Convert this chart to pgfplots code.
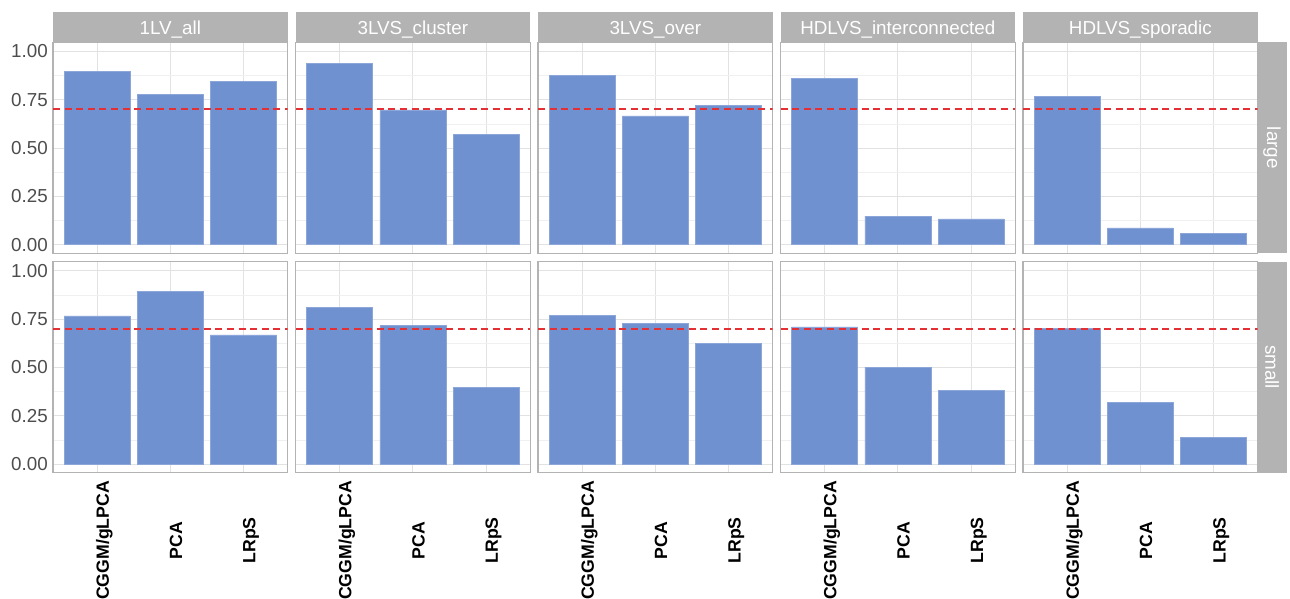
\documentclass[border=0pt]{standalone}
\usepackage{fontspec}
\setmainfont{Liberation Sans}
\usepackage{pgfplots}
\usepackage{pgfplotstable}
\pgfplotsset{compat=1.18}
\usetikzlibrary{calc}
\definecolor{barblue}{RGB}{111,145,208}
\definecolor{baredge}{RGB}{140,166,218}
\definecolor{grey70}{RGB}{179,179,179}
\definecolor{grey30}{RGB}{77,77,77}
\definecolor{gridmaj}{RGB}{226,226,226}
\definecolor{gridmin}{RGB}{240,240,240}
\definecolor{refred}{RGB}{228,48,52}

% large: rows are methods CGGM/gLPCA, PCA, LRpS
\pgfplotstableread{
x A B C D E
1 0.897 0.936 0.874 0.860 0.767
2 0.778 0.697 0.666 0.147 0.086
3 0.845 0.569 0.720 0.133 0.060
}\largetab
% small
\pgfplotstableread{
x A B C D E
1 0.766 0.812 0.769 0.710 0.703
2 0.894 0.718 0.729 0.501 0.319
3 0.668 0.397 0.626 0.383 0.138
}\smalltab

\newcommand{\stripfont}{\fontsize{18.8}{22}\selectfont}

\pgfplotsset{
  facet/.style={
    scale only axis, width=234.7pt, height=211pt, anchor=north west,
    xmin=0.4, xmax=3.6, ymin=-0.045, ymax=1.047,
    xtick={1,2,3}, ytick={0,0.25,0.5,0.75,1},
    minor y tick num=1,
    xmajorgrids, ymajorgrids, yminorgrids,
    major grid style={gridmaj, line width=0.9pt},
    minor grid style={gridmin, line width=0.5pt},
    axis line style={grey70, line width=1.2pt},
    tick align=outside, tick pos=left,
    major tick length=4.5pt, minor tick length=0pt,
    xtick style={draw=none}, ytick style={draw=none},
    xticklabels={}, yticklabels={},
  },
  leftcol/.style={
    yticklabels={0.00,0.25,0.50,0.75,1.00},
    ytick style={grey70, line width=1pt},
    yticklabel style={font=\fontsize{18.8}{22}\selectfont, text=grey30, anchor=east, inner sep=0pt, xshift=-0.5pt},
  },
  bottomrow/.style={
    xticklabels={CGGM/gLPCA,PCA,LRpS},
    xtick style={grey70, line width=1pt},
    xticklabel style={xshift=5.5pt, yshift=-63.2pt, rotate=90, anchor=center, inner sep=0pt,
      text height=12.6pt, text depth=0pt,
      font=\fontsize{17.7}{20}\selectfont\bfseries, text=black},
  },
}

% #1 x, #2 y, #3 table, #4 column, #5 extra options
\newcommand{\panel}[5]{%
  \begin{axis}[facet, at={(#1pt,#2pt)}, #5]
    \addplot[ybar, bar width=0.9, fill=barblue, draw=baredge, line width=0.6pt] table[x=x, y=#4] {#3};
    \addplot[refred, line width=1.7pt, dash pattern=on 7pt off 4.6pt] coordinates {(0.4,0.7) (3.6,0.7)};
  \end{axis}}

\newcommand{\topstrip}[2]{%
  \fill[grey70] (#1pt,-11.7pt) rectangle ++(234.7pt,-30.6pt);
  \node[text=white, font=\stripfont, inner sep=0pt, anchor=base] at ($(#1pt,-34.8pt)+(117.35pt,0)$) {#2};}

\begin{document}
\begin{tikzpicture}
\path[use as bounding box] (0,0) rectangle (1290pt,-599pt);

\panel{53}{-42.3}{\largetab}{A}{leftcol}
\panel{295.5}{-42.3}{\largetab}{B}{}
\panel{538}{-42.3}{\largetab}{C}{}
\panel{780.5}{-42.3}{\largetab}{D}{}
\panel{1023}{-42.3}{\largetab}{E}{}

\panel{53}{-261.7}{\smalltab}{A}{leftcol,bottomrow}
\panel{295.5}{-261.7}{\smalltab}{B}{bottomrow}
\panel{538}{-261.7}{\smalltab}{C}{bottomrow}
\panel{780.5}{-261.7}{\smalltab}{D}{bottomrow}
\panel{1023}{-261.7}{\smalltab}{E}{bottomrow}

\topstrip{53}{1LV\_all}
\topstrip{295.5}{3LVS\_cluster}
\topstrip{538}{3LVS\_over}
\topstrip{780.5}{HDLVS\_interconnected}
\topstrip{1023}{HDLVS\_sporadic}

\fill[grey70] (1258.3pt,-42.3pt) rectangle (1286.7pt,-253.3pt);
\node[text=white, font=\stripfont, rotate=-90, inner sep=0pt] at (1272pt,-147.8pt) {large};
\fill[grey70] (1258.3pt,-261.7pt) rectangle (1286.7pt,-472.7pt);
\node[text=white, font=\stripfont, rotate=-90, inner sep=0pt] at (1272pt,-367.2pt) {small};
\end{tikzpicture}
\end{document}
